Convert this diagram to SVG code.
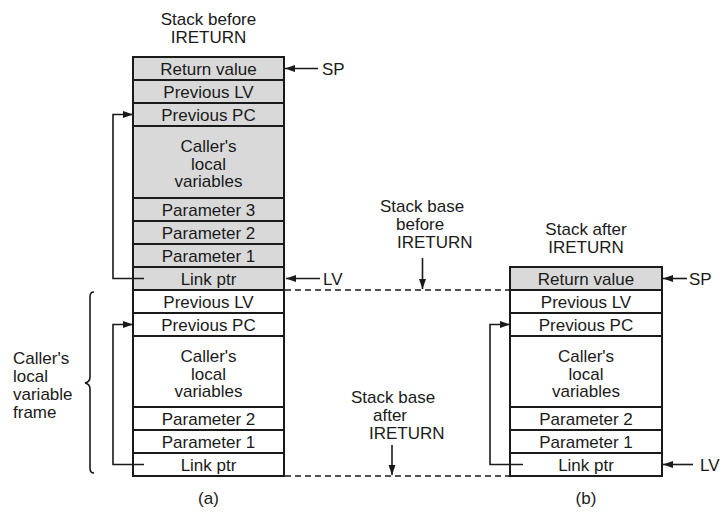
<svg xmlns="http://www.w3.org/2000/svg" width="721" height="515" viewBox="0 0 721 515">
<defs>
<style>
text{font-family:"Liberation Sans",Arial,sans-serif;font-size:17px;fill:#1a1a1a}
.c{text-anchor:middle}
.g{fill:#d9d9d9;stroke:#1a1a1a;stroke-width:2}
.w{fill:#ffffff;stroke:#1a1a1a;stroke-width:2}
.ln{fill:none;stroke:#1a1a1a;stroke-width:1.6}
.ds{fill:none;stroke:#1a1a1a;stroke-width:1.6;stroke-dasharray:6 4}
</style>
<marker id="ah" markerUnits="userSpaceOnUse" markerWidth="11" markerHeight="8" refX="10" refY="3.5" orient="auto">
<path d="M0,0 L10,3.5 L0,7 z" fill="#1a1a1a"/>
</marker>
</defs>
<rect width="721" height="515" fill="#ffffff"/>

<g id="title-a"><text class="c" x="208.5" y="25">Stack before</text><text class="c" x="208.5" y="43">IRETURN</text></g>
<g id="title-b"><text class="c" x="586" y="235">Stack after</text><text class="c" x="586" y="253">IRETURN</text></g>
<g id="label-base-before"><text x="380" y="212">Stack base</text><text x="396" y="230">before</text><text x="397" y="248">IRETURN</text></g>
<g id="label-base-after"><text x="351" y="403">Stack base</text><text x="373" y="421">after</text><text x="369" y="439">IRETURN</text></g>
<g id="label-frame"><text x="13" y="364">Caller's</text><text x="13" y="382">local</text><text x="13" y="400">variable</text><text x="13" y="418">frame</text></g>
<g id="label-a"><text class="c" x="208.5" y="504">(a)</text></g>
<g id="label-b"><text class="c" x="586" y="504">(b)</text></g>

<g id="stack-a">
<g id="a-retval"><rect class="g" x="133" y="57" width="151" height="23"/><text class="c" x="208.5" y="74.5">Return value</text></g>
<g id="a-prevlv1"><rect class="g" x="133" y="80" width="151" height="23"/><text class="c" x="208.5" y="97.5">Previous LV</text></g>
<g id="a-prevpc1"><rect class="g" x="133" y="103" width="151" height="23"/><text class="c" x="208.5" y="120.5">Previous PC</text></g>
<g id="a-locals1"><rect class="g" x="133" y="126" width="151" height="72"/><text class="c" x="208.5" y="152">Caller's</text><text class="c" x="208.5" y="169.5">local</text><text class="c" x="208.5" y="187">variables</text></g>
<g id="a-param3"><rect class="g" x="133" y="198" width="151" height="23"/><text class="c" x="208.5" y="215.5">Parameter 3</text></g>
<g id="a-param2"><rect class="g" x="133" y="221" width="151" height="23"/><text class="c" x="208.5" y="238.5">Parameter 2</text></g>
<g id="a-param1"><rect class="g" x="133" y="244" width="151" height="23"/><text class="c" x="208.5" y="261.5">Parameter 1</text></g>
<g id="a-link1"><rect class="g" x="133" y="267" width="151" height="23"/><text class="c" x="208.5" y="284.5">Link ptr</text></g>
<g id="a-prevlv2"><rect class="w" x="133" y="290" width="151" height="23"/><text class="c" x="208.5" y="307.5">Previous LV</text></g>
<g id="a-prevpc2"><rect class="w" x="133" y="313" width="151" height="23"/><text class="c" x="208.5" y="330.5">Previous PC</text></g>
<g id="a-locals2"><rect class="w" x="133" y="336" width="151" height="71"/><text class="c" x="208.5" y="362">Caller's</text><text class="c" x="208.5" y="379.5">local</text><text class="c" x="208.5" y="397">variables</text></g>
<g id="a-param2b"><rect class="w" x="133" y="407" width="151" height="23"/><text class="c" x="208.5" y="424.5">Parameter 2</text></g>
<g id="a-param1b"><rect class="w" x="133" y="430" width="151" height="23"/><text class="c" x="208.5" y="447.5">Parameter 1</text></g>
<g id="a-link2"><rect class="w" x="133" y="453" width="151" height="23"/><text class="c" x="208.5" y="470.5">Link ptr</text></g>
</g>

<g id="stack-b">
<g id="b-retval"><rect class="g" x="510" y="267" width="152" height="23"/><text class="c" x="586" y="284.5">Return value</text></g>
<g id="b-prevlv"><rect class="w" x="510" y="290" width="152" height="23"/><text class="c" x="586" y="307.5">Previous LV</text></g>
<g id="b-prevpc"><rect class="w" x="510" y="313" width="152" height="23"/><text class="c" x="586" y="330.5">Previous PC</text></g>
<g id="b-locals"><rect class="w" x="510" y="336" width="152" height="71"/><text class="c" x="586" y="362">Caller's</text><text class="c" x="586" y="379.5">local</text><text class="c" x="586" y="397">variables</text></g>
<g id="b-param2"><rect class="w" x="510" y="407" width="152" height="23"/><text class="c" x="586" y="424.5">Parameter 2</text></g>
<g id="b-param1"><rect class="w" x="510" y="430" width="152" height="23"/><text class="c" x="586" y="447.5">Parameter 1</text></g>
<g id="b-link"><rect class="w" x="510" y="453" width="152" height="23"/><text class="c" x="586" y="470.5">Link ptr</text></g>
</g>

<g id="pointer-labels">
<text x="322" y="75">SP</text>
<text x="323" y="284.5">LV</text>
<text x="689" y="284.5">SP</text>
<text x="700" y="470.5">LV</text>
</g>

<g id="connectors">
<path class="ln" d="M318,68.5 H285" marker-end="url(#ah)"/>
<path class="ln" d="M320,278.5 H286" marker-end="url(#ah)"/>
<path class="ln" d="M687,278.5 H663" marker-end="url(#ah)"/>
<path class="ln" d="M693,464.5 H663" marker-end="url(#ah)"/>
<path class="ln" d="M422.5,258 V289" marker-end="url(#ah)"/>
<path class="ln" d="M392,445 V475" marker-end="url(#ah)"/>
<path class="ln" d="M144,278.5 H113 V114.5 H133" marker-end="url(#ah)"/>
<path class="ln" d="M144,464.5 H113 V324.5 H133" marker-end="url(#ah)"/>
<path class="ln" d="M523,464.5 H490 V324.5 H510" marker-end="url(#ah)"/>
<path class="ds" d="M285,290 H510"/>
<path class="ds" d="M285,476 H510"/>
<path class="ln" d="M94,292 Q90,292 90,297 V377 Q90,382 85,383 Q90,384 90,389 V468 Q90,473 94,473"/>
</g>
</svg>
